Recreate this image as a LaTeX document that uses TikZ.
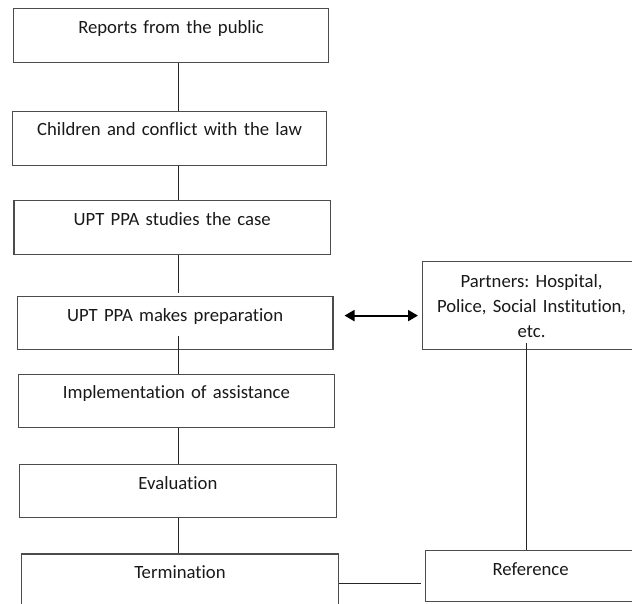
\documentclass[tikz,border=0pt]{standalone}
\usepackage{fontspec}
\setmainfont{Carlito}[Ligatures=NoCommon]
\usetikzlibrary{positioning,calc}
\usetikzlibrary{arrows.meta}
\frenchspacing

\begin{document}
\begin{tikzpicture}[x=1pt, y=-1pt,
      every node/.style={font=\fontsize{18.7}{25}\selectfont, text=black!90},
      stepbox/.style={draw=black!70, line width=1.2pt, inner sep=0pt,
        anchor=north west, text width=#1, align=center,
        text height=24.5pt, text depth=29.5pt},
      stepbox/.default=315pt,
      link/.style={line width=0.9pt, draw=black!85},
      both/.style={line width=2pt, draw=black,
        {Triangle[length=10pt,width=11pt]}-{Triangle[length=10pt,width=11pt]}}
      ]
    \useasboundingbox (0,0) rectangle (632,603);
    \clip (0,0) rectangle (632,603);

    \node (b1) [stepbox=315pt] at (13,8) {Reports from the public};
    \node (b2) [stepbox=314pt] at (12,110.7) {Children and conflict with the law};
    \node (b3) [stepbox=316.7pt] at (13.3,200) {UPT PPA studies the case};
    \node (b4) [stepbox=315.6pt, text depth=28.5pt] at (16.7,296) {UPT PPA makes preparation};
    \node (b5) [stepbox=315.7pt, text depth=28.5pt] at (18,373.5) {Implementation of assistance};
    \node (b6) [stepbox=316.7pt, text depth=28.5pt] at (19,464) {Evaluation};
    \node (b7) [stepbox=316.7pt, text depth=34.3pt] at (21,553.3) {Termination};

    \node (partners) [draw=black!70, line width=1.2pt, inner sep=0pt,
      anchor=north west, text width=218pt, minimum height=88pt,
      align=center] at (422,261)
      {Partners: Hospital,\\Police, Social Institution,\\etc.};
    \node (ref) [stepbox=210pt, text depth=26.5pt] at (425,550) {Reference};

    % main line down the steps
    \coordinate (spine) at (178,0);
    \draw [link] (b1.south -| spine) -- (b2.north -| spine);
    \draw [link] (b2.south -| spine) -- (b3.north -| spine);
    \draw [link, shorten >=3pt] (b3.south -| spine) -- (b4.north -| spine);
    \draw [link] ([yshift=14pt]b4.south -| spine) -- (b5.north -| spine);
    \draw [link] (b5.south -| spine) -- (b6.north -| spine);
    \draw [link] (b6.south -| spine) -- (b7.north -| spine);

    \draw [both, shorten <=11pt, shorten >=4pt]
    ([yshift=7.5pt]b4.east) -- ([yshift=7.5pt]b4.east -| partners.west);

    \coordinate (drop) at (526,0);
    \draw [link] ([yshift=7pt]partners.south -| drop) -- (ref.north -| drop);
    \draw [link, shorten >=4pt] (b7.east) -- (b7.east -| ref.west);
  \end{tikzpicture}
\end{document}
